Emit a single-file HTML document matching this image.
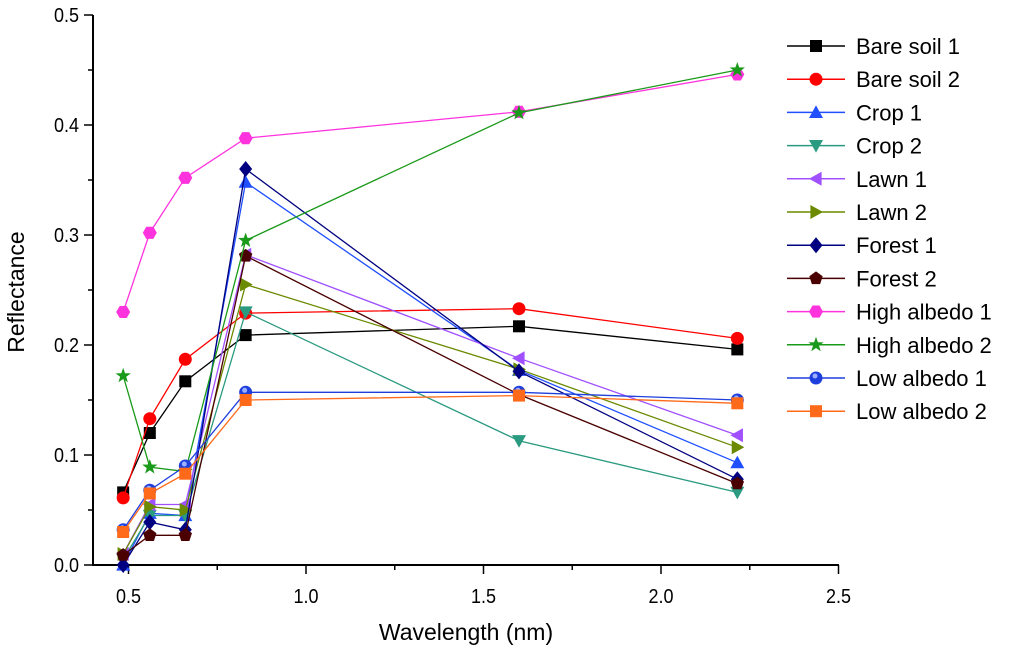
<!DOCTYPE html>
<html><head><meta charset="utf-8"><style>
body{margin:0;background:#fff;}
svg{display:block;font-family:"Liberation Sans",Arial,sans-serif;}
</style></head><body>
<svg id="c" width="1024" height="649"></svg>
<script>
const wavelengths=[0.485,0.56,0.66,0.83,1.6,2.215];
const seriesNames=["Bare soil 1","Bare soil 2","Crop 1","Crop 2","Lawn 1","Lawn 2","Forest 1","Forest 2","High albedo 1","High albedo 2","Low albedo 1","Low albedo 2"];
const bareSoil1=[0.066,0.12,0.167,0.209,0.217,0.196];
const bareSoil2=[0.061,0.133,0.187,0.229,0.233,0.206];
const crop1=[0.0,0.047,0.045,0.348,0.177,0.093];
const crop2=[0.005,0.045,0.045,0.23,0.113,0.066];
const lawn1=[0.01,0.055,0.055,0.282,0.188,0.118];
const lawn2=[0.01,0.053,0.05,0.255,0.178,0.107];
const forest1=[0.0,0.039,0.032,0.36,0.176,0.078];
const forest2=[0.009,0.027,0.027,0.281,0.155,0.074];
const highAlbedo1=[0.23,0.302,0.352,0.388,0.412,0.446];
const highAlbedo2=[0.172,0.089,0.085,0.295,0.411,0.45];
const lowAlbedo1=[0.032,0.068,0.09,0.157,0.157,0.15];
const lowAlbedo2=[0.03,0.065,0.083,0.15,0.154,0.147];
const xTicks=[0.5,1.0,1.5,2.0,2.5];
const yTicks=[0.0,0.1,0.2,0.3,0.4,0.5];
const allSeries=[bareSoil1,bareSoil2,crop1,crop2,lawn1,lawn2,forest1,forest2,highAlbedo1,highAlbedo2,lowAlbedo1,lowAlbedo2];
const colors=["#000","#ff0000","#1f4fff","#2a9a80","#a050ff","#6b8a00","#000080","#4a0000","#ff33dd","#1a9a1a","#1f3fdd","#ff6a1a"];
const shapes=["square","circle","tri","tridown","tril","trir","diamond","pent","hex","star","ball","square"];
const ns="http://www.w3.org/2000/svg";
const svg=document.getElementById('c');
const X=v=>93+(v-0.4)*355, Y=v=>565-v*1100;
function mk(t,a,p){const e=document.createElementNS(ns,t);for(const k in a)e.setAttribute(k,a[k]);(p||svg).appendChild(e);return e;}
function marker(shape,cx,cy,col,g){
  const r=7;let e;
  const poly=(pts)=>mk('polygon',{points:pts.map(p=>(cx+p[0])+','+(cy+p[1])).join(' '),fill:col},g);
  if(shape==='square')e=mk('rect',{x:cx-6,y:cy-6,width:12,height:12,fill:col},g);
  else if(shape==='circle')e=mk('circle',{cx,cy,r:6.5,fill:col},g);
  else if(shape==='ball'){e=mk('circle',{cx,cy,r:6.5,fill:col},g);mk('circle',{cx:cx-1,cy:cy-2,r:2.5,fill:'#9bb0ff'},g);}
  else if(shape==='tri')e=poly([[0,-r],[r,r*0.8],[-r,r*0.8]]);
  else if(shape==='tridown')e=poly([[0,r],[r,-r*0.8],[-r,-r*0.8]]);
  else if(shape==='tril')e=poly([[-r,0],[r*0.8,-r],[r*0.8,r]]);
  else if(shape==='trir')e=poly([[r,0],[-r*0.8,-r],[-r*0.8,r]]);
  else if(shape==='diamond')e=poly([[0,-8],[6.5,0],[0,8],[-6.5,0]]);
  else if(shape==='pent'){const p=[];for(let i=0;i<5;i++){const a=-Math.PI/2+i*2*Math.PI/5;p.push([r*Math.cos(a),r*Math.sin(a)]);}e=poly(p);}
  else if(shape==='hex'){const p=[];for(let i=0;i<6;i++){const a=i*Math.PI/3;p.push([r*Math.cos(a),r*Math.sin(a)]);}e=poly(p);}
  else if(shape==='star'){const p=[];for(let i=0;i<10;i++){const a=-Math.PI/2+i*Math.PI/5,rr=i%2?3.2:8;p.push([rr*Math.cos(a),rr*Math.sin(a)]);}e=poly(p);}
  return e;
}
const ax=mk('g',{});


mk('line',{x1:93,y1:15,x2:93,y2:566,stroke:'#000','stroke-width':2},ax);
mk('line',{x1:92,y1:565,x2:839,y2:565,stroke:'#000','stroke-width':2},ax);
for(const t of xTicks){mk('line',{x1:X(t),y1:565,x2:X(t),y2:574,stroke:'#000','stroke-width':1.5},ax);
  const tx=mk('text',{x:X(t),y:603,'text-anchor':'middle','font-size':20,transform:`translate(${X(t)},0) scale(0.9,1) translate(${-X(t)},0)`},ax);tx.textContent=t.toFixed(1);
  
  if(t<2.5)mk('line',{x1:X(t+0.25),y1:565,x2:X(t+0.25),y2:570,stroke:'#000','stroke-width':1.5},ax);}
for(const t of yTicks){mk('line',{x1:84,y1:Y(t),x2:93,y2:Y(t),stroke:'#000','stroke-width':1.5},ax);
  const tx=mk('text',{x:79,y:Y(t)+7,'text-anchor':'end','font-size':20,transform:`translate(79,0) scale(0.9,1) translate(-79,0)`},ax);tx.textContent=t.toFixed(1);
  
  if(t<0.5)mk('line',{x1:88,y1:Y(t+0.05),x2:93,y2:Y(t+0.05),stroke:'#000','stroke-width':1.5},ax);}
const xt=mk('text',{x:466,y:640,'text-anchor':'middle','font-size':23},ax);xt.textContent='Wavelength (nm)';

const yt=mk('text',{x:0,y:0,'text-anchor':'middle','font-size':23,transform:'translate(24,292) rotate(-90)'},ax);yt.textContent='Reflectance';

allSeries.forEach((d,i)=>{
  const g=mk('g',{});
  
  
  mk('polyline',{points:d.map((v,j)=>X(wavelengths[j])+','+Y(v)).join(' '),fill:'none',stroke:colors[i],'stroke-width':1.3},g);
  d.forEach((v,j)=>{const m=marker(shapes[i],X(wavelengths[j]),Y(v),colors[i],g);
    
    });
});
const lg=mk('g',{});


seriesNames.forEach((n,i)=>{
  const y=46+i*33.2;
  const e=mk('g',{},lg);
  
  
  mk('line',{x1:787,y1:y,x2:845,y2:y,stroke:colors[i],'stroke-width':1.5},e);
  marker(shapes[i],816,y,colors[i],e);
  const t=mk('text',{x:856,y:y+8,'font-size':22},e);t.textContent=n;
});
</script>
</body></html>
